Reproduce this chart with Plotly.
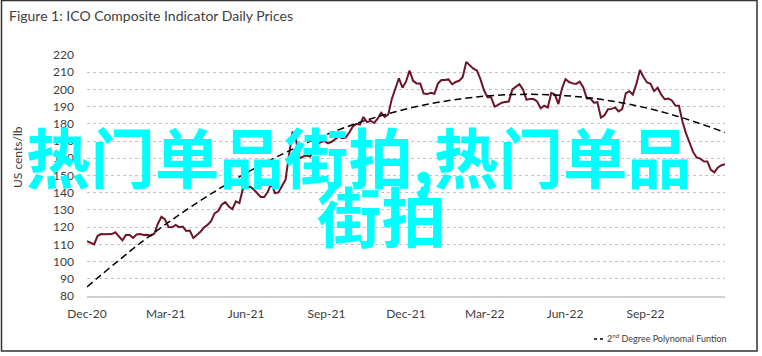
import pandas as pd
import plotly.graph_objects as go

# ---------------- data ----------------
price_start = "2020-12-01"
price_end = "2022-12-01"
price_values = [
    111.8, 111.0, 110.0, 115.0, 116.0, 115.8, 115.8, 116.0, 117.0, 114.3,
    112.3, 115.5, 115.5, 113.8, 115.7, 116.0, 115.5, 115.6, 115.0, 116.3,
    122.0, 126.0, 124.5, 120.0, 119.9, 121.3, 120.0, 120.3, 117.8, 118.0,
    113.7, 115.5, 117.3, 119.8, 121.3, 123.5, 128.0, 129.4, 133.0, 134.5,
    132.0, 130.4, 135.0, 134.0, 142.5, 143.0, 143.5, 142.0, 139.8, 137.5,
    137.5, 140.5, 145.4, 139.8, 140.2, 144.0, 147.5, 162.0, 175.5, 170.5,
    160.0, 161.0, 161.6, 161.0, 166.4, 168.0, 169.5, 170.0, 168.7, 169.6,
    171.0, 172.6, 171.7, 172.0, 175.0, 178.5, 180.0, 179.6, 184.0, 181.0,
    181.8, 180.5, 183.0, 186.5, 184.0, 185.5, 194.5, 200.0, 206.5, 201.0,
    204.5, 211.0, 205.0, 203.5, 203.4, 197.6, 197.3, 198.0, 197.5, 203.4,
    205.5, 205.5, 205.8, 203.0, 204.3, 205.0, 207.2, 216.0, 214.0, 212.0,
    211.0, 206.0, 199.5, 195.5, 195.5, 190.0, 191.0, 192.3, 192.7, 193.0,
    200.0, 201.5, 203.0, 200.0, 194.0, 194.5, 194.4, 193.0, 189.0, 190.5,
    189.5, 198.0, 197.0, 191.5, 200.5, 206.0, 204.3, 203.5, 203.2, 204.5,
    201.3, 194.8, 194.8, 192.3, 192.6, 183.6, 185.0, 188.5, 188.7, 189.5,
    187.2, 188.5, 197.7, 199.0, 197.0, 203.2, 211.3, 207.2, 204.0, 203.3,
    199.0, 201.0, 197.0, 194.3, 194.7, 193.6, 190.6, 190.5, 181.4, 174.5,
    169.0, 163.7, 160.5, 159.8, 158.3, 158.2, 153.3, 151.8, 154.7, 156.0,
    156.5,
]
price_dates = pd.date_range(price_start, price_end, periods=len(price_values))

trend_dates = [
    "2020-12-01", "2021-02-01", "2021-04-01", "2021-06-01", "2021-08-01",
    "2021-10-01", "2021-12-01", "2022-02-01", "2022-04-01", "2022-06-01",
    "2022-08-01", "2022-10-01", "2022-12-01",
]
trend_values = [85.3, 111.1, 132.5, 151.4, 167.1, 179.5, 188.6, 194.5,
                197.0, 196.4, 192.6, 185.4, 175.0]

x_tick_dates = ["2020-12-01", "2021-03-01", "2021-06-01", "2021-09-01",
                "2021-12-01", "2022-03-01", "2022-06-01", "2022-09-01"]
x_tick_labels = ["Dec-20", "Mar-21", "Jun-21", "Sep-21",
                 "Dec-21", "Mar-22", "Jun-22", "Sep-22"]
y_ticks = [80, 90, 100, 110, 120, 130, 140, 150, 160, 170, 180, 190, 200, 210, 220]

title_text = "Figure 1: ICO Composite Indicator Daily Prices"
y_title = "US cents/lb"
legend_name = "2<sup>nd</sup> Degree Polynomal Funtion"
watermark_line1 = "热门单品街拍,热门单品"
watermark_line2 = "街拍"

# ---------------- layout helpers (pixel -> paper) ----------------
W, H = 762, 356
L, R, T, B = 87, 37, 55, 60
PW, PH = W - L - R, H - T - B


def px(x):
    return (x - L) / PW


def py(y):
    return (H - B - y) / PH


FONT = "Lato"
TXT = "#404040"

fig = go.Figure()
fig.add_trace(go.Scatter(
    x=price_dates, y=price_values, mode="lines",
    line=dict(color="#6E1428", width=2), showlegend=False,
    name="ICO Composite",
))
fig.add_trace(go.Scatter(
    x=trend_dates, y=trend_values, mode="lines",
    line=dict(color="#000000", width=1.5, dash="7px,4px", shape="spline"),
    name=legend_name, showlegend=False,
))

fig.update_layout(
    width=W, height=H,
    margin=dict(l=L, r=R, t=T, b=B, autoexpand=False),
    paper_bgcolor="white", plot_bgcolor="white",
    font=dict(family=FONT, size=12, color=TXT),
    showlegend=False,
    xaxis=dict(
        type="date", range=[price_start, price_end],
        tickvals=x_tick_dates, ticktext=x_tick_labels,
        showgrid=False, zeroline=False, automargin=False,
        showline=True, linecolor="#D0D0D0", linewidth=1.5,
        ticks="", ticklabelstandoff=6,
        tickfont=dict(size=12, color=TXT, family=FONT),
    ),
    yaxis=dict(
        range=[80, 220], tickvals=y_ticks, automargin=False,
        showgrid=True, gridcolor="#C4C4C4", griddash="dot", gridwidth=1,
        zeroline=False, showline=False, ticks="", ticklabelstandoff=12,
        tickfont=dict(size=12, color=TXT, family=FONT),
    ),
)

LEG_Y = 338
annotations = [
    dict(text=title_text, x=px(7), y=py(16), xref="paper", yref="paper",
         xanchor="left", yanchor="middle", showarrow=False,
         font=dict(size=14, color=TXT, family=FONT)),
    dict(text=y_title, x=px(17), y=py(157), xref="paper", yref="paper",
         xanchor="center", yanchor="middle", textangle=-90, showarrow=False,
         font=dict(size=12, color=TXT, family=FONT)),
    dict(text=legend_name, x=px(729), y=py(LEG_Y), xref="paper", yref="paper",
         xanchor="right", yanchor="middle", showarrow=False,
         font=dict(size=9, color=TXT, family=FONT)),
    dict(text=watermark_line1, x=px(359), y=py(155), xref="paper", yref="paper",
         xanchor="center", yanchor="middle", showarrow=False,
         font=dict(size=64.5, color="#00FFFF", family="Noto Sans CJK SC", weight=700)),
    dict(text=watermark_line2, x=px(381), y=py(214), xref="paper", yref="paper",
         xanchor="center", yanchor="middle", showarrow=False,
         font=dict(size=64.5, color="#00FFFF", family="Noto Sans CJK SC", weight=700)),
]
fig.update_layout(annotations=annotations)

# legend key (short dashed sample, as in the reference)
fig.add_shape(type="line", xref="paper", yref="paper",
              x0=px(594), x1=px(604), y0=py(LEG_Y + 1), y1=py(LEG_Y + 1),
              line=dict(color="#000000", width=1.5, dash="3px,3px"))

# outer frame
fig.add_shape(type="rect", xref="paper", yref="paper",
              x0=px(1.5), x1=px(757), y0=py(351), y1=py(0.5),
              line=dict(color="#333333", width=1.5), fillcolor="rgba(0,0,0,0)",
              layer="above")

fig.write_html(
    "out.html",
    config={"displayModeBar": False},
    post_script="document.body.style.margin='0';document.body.style.padding='0';",
)
